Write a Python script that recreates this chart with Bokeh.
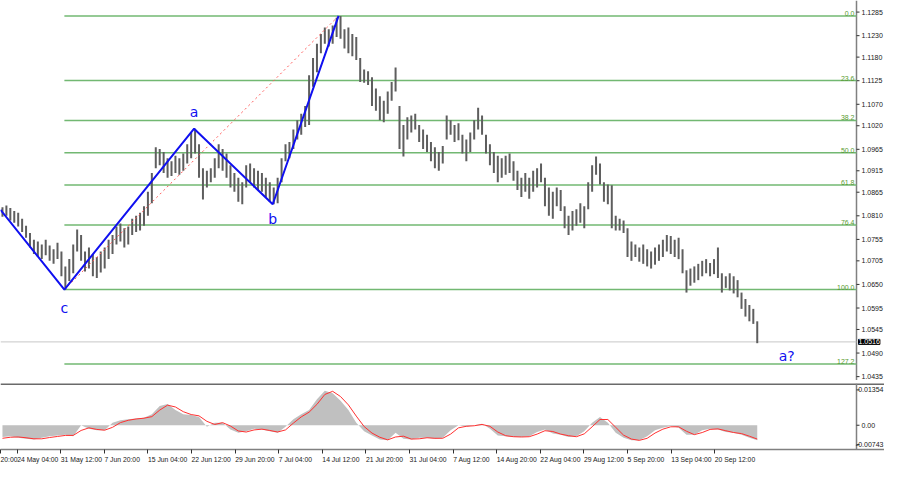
from bokeh.plotting import figure
from bokeh.layouts import column
from bokeh.models import FixedTicker, Range1d, Label, ColumnDataSource
from bokeh.core.properties import value
from bokeh.embed import file_html
from bokeh.resources import INLINE

# ---------------- data (EUR/USD, 4-hour bars sampled every ~12h) ----------------
highs = [
    1.0830, 1.0834, 1.0828, 1.0821, 1.0817, 1.0803, 1.0787, 1.0770, 1.0754, 1.0750,
    1.0743, 1.0754, 1.0741, 1.0732, 1.0747, 1.0727, 1.0692, 1.0709, 1.0743, 1.0778,
    1.0765, 1.0727, 1.0736, 1.0721, 1.0714, 1.0727, 1.0736, 1.0754, 1.0765, 1.0785,
    1.0792, 1.0781, 1.0785, 1.0803, 1.0810, 1.0817, 1.0832, 1.0866, 1.0910, 1.0970,
    1.0966, 1.0959, 1.0944, 1.0937, 1.0950, 1.0944, 1.0955, 1.0977, 1.1004, 1.1013,
    1.0977, 1.0921, 1.0915, 1.0921, 1.0944, 1.0977, 1.0966, 1.0955, 1.0928, 1.0910,
    1.0899, 1.0888, 1.0928, 1.0932, 1.0921, 1.0915, 1.0910, 1.0899, 1.0888, 1.0876,
    1.0899, 1.0944, 1.0977, 1.0982, 1.1011, 1.1033, 1.1048, 1.1066, 1.1138, 1.1178,
    1.1211, 1.1234, 1.1249, 1.1245, 1.1254, 1.1272, 1.1276, 1.1245, 1.1249, 1.1234,
    1.1227, 1.1178, 1.1151, 1.1147, 1.1133, 1.1107, 1.1089, 1.1078, 1.1100, 1.1122,
    1.1156, 1.1066, 1.1022, 1.1040, 1.1044, 1.1048, 1.1022, 1.1011, 1.0999, 1.0982,
    1.0970, 1.0959, 1.0973, 1.1044, 1.1033, 1.1022, 1.1026, 1.0999, 1.0988, 1.1004,
    1.1033, 1.1062, 1.1044, 1.0999, 1.0977, 1.0959, 1.0950, 1.0944, 1.0950, 1.0955,
    1.0937, 1.0915, 1.0899, 1.0910, 1.0899, 1.0915, 1.0921, 1.0932, 1.0899, 1.0876,
    1.0866, 1.0876, 1.0870, 1.0832, 1.0810, 1.0821, 1.0825, 1.0839, 1.0832, 1.0888,
    1.0928, 1.0948, 1.0932, 1.0888, 1.0883, 1.0881, 1.0810, 1.0803, 1.0799, 1.0781,
    1.0750, 1.0743, 1.0736, 1.0743, 1.0732, 1.0727, 1.0736, 1.0743, 1.0754, 1.0765,
    1.0763, 1.0754, 1.0759, 1.0732, 1.0683, 1.0687, 1.0692, 1.0698, 1.0705, 1.0709,
    1.0700, 1.0709, 1.0736, 1.0676, 1.0669, 1.0676, 1.0669, 1.0660, 1.0631, 1.0616,
    1.0602, 1.0593, 1.0564,
]
lows = [
    1.0808, 1.0810, 1.0799, 1.0794, 1.0785, 1.0772, 1.0759, 1.0736, 1.0721, 1.0714,
    1.0709, 1.0718, 1.0705, 1.0698, 1.0709, 1.0669, 1.0638, 1.0658, 1.0676, 1.0727,
    1.0705, 1.0680, 1.0687, 1.0669, 1.0665, 1.0678, 1.0687, 1.0709, 1.0721, 1.0743,
    1.0750, 1.0736, 1.0743, 1.0765, 1.0772, 1.0776, 1.0787, 1.0810, 1.0839, 1.0921,
    1.0928, 1.0910, 1.0899, 1.0903, 1.0910, 1.0906, 1.0915, 1.0932, 1.0944, 1.0955,
    1.0899, 1.0848, 1.0876, 1.0888, 1.0899, 1.0921, 1.0915, 1.0899, 1.0876, 1.0866,
    1.0843, 1.0837, 1.0876, 1.0888, 1.0876, 1.0870, 1.0866, 1.0854, 1.0843, 1.0837,
    1.0839, 1.0888, 1.0937, 1.0944, 1.0966, 1.0988, 1.0999, 1.1017, 1.1022, 1.1111,
    1.1145, 1.1189, 1.1211, 1.1205, 1.1211, 1.1227, 1.1223, 1.1200, 1.1189, 1.1182,
    1.1173, 1.1122, 1.1120, 1.1115, 1.1066, 1.1055, 1.1033, 1.1028, 1.1048, 1.1078,
    1.1100, 1.0966, 1.0948, 1.0988, 1.1004, 1.1011, 1.0982, 1.0966, 1.0959, 1.0937,
    1.0921, 1.0915, 1.0932, 1.0988, 1.0999, 1.0982, 1.0986, 1.0955, 1.0937, 1.0959,
    1.0988, 1.1011, 1.0999, 1.0955, 1.0928, 1.0910, 1.0888, 1.0899, 1.0906, 1.0910,
    1.0892, 1.0870, 1.0854, 1.0866, 1.0850, 1.0866, 1.0876, 1.0888, 1.0832, 1.0810,
    1.0803, 1.0832, 1.0821, 1.0781, 1.0765, 1.0776, 1.0787, 1.0794, 1.0781, 1.0825,
    1.0866, 1.0906, 1.0883, 1.0843, 1.0837, 1.0781, 1.0776, 1.0776, 1.0770, 1.0714,
    1.0705, 1.0714, 1.0703, 1.0698, 1.0692, 1.0687, 1.0696, 1.0705, 1.0714, 1.0727,
    1.0721, 1.0714, 1.0709, 1.0676, 1.0631, 1.0647, 1.0654, 1.0660, 1.0669, 1.0676,
    1.0669, 1.0674, 1.0665, 1.0631, 1.0642, 1.0636, 1.0629, 1.0620, 1.0593, 1.0575,
    1.0564, 1.0558, 1.0513,
]
last_price = 1.0516
last_price_text = "1.0516"

# MACD-style oscillator (histogram + signal), one value per two samples
hist = [
    -0.0045, -0.0042, -0.0048, -0.0052, -0.0055, -0.0048, -0.0042, -0.0039, -0.0036, -0.0042,
    0.0000, -0.0013, -0.0019, -0.0019, 0.0010, 0.0019, 0.0023, 0.0026, 0.0029, 0.0042,
    0.0074, 0.0081, 0.0058, 0.0042, 0.0039, 0.0032, -0.0006, 0.0010, 0.0010, -0.0016,
    -0.0029, -0.0023, -0.0013, -0.0016, -0.0023, -0.0029, -0.0006, 0.0023, 0.0042, 0.0058,
    0.0100, 0.0132, 0.0123, 0.0094, 0.0058, 0.0010, -0.0023, -0.0039, -0.0055, -0.0058,
    -0.0029, -0.0052, -0.0055, -0.0048, -0.0048, -0.0052, -0.0048, -0.0019, 0.0000, -0.0006,
    0.0000, 0.0006, -0.0013, -0.0039, -0.0042, -0.0045, -0.0045, -0.0042, -0.0026, -0.0016,
    -0.0032, -0.0036, -0.0045, -0.0042, -0.0023, 0.0010, 0.0032, 0.0010, -0.0029, -0.0048,
    -0.0058, -0.0058, -0.0042, -0.0019, -0.0010, -0.0003, -0.0010, -0.0036, -0.0036, -0.0019,
    -0.0013, -0.0016, -0.0026, -0.0029, -0.0036, -0.0048, -0.0058,
]
signal = [
    -0.0050, -0.0046, -0.0045, -0.0048, -0.0052, -0.0052, -0.0047, -0.0043, -0.0039, -0.0039,
    -0.0020, -0.0010, -0.0016, -0.0019, -0.0008, 0.0010, 0.0019, 0.0024, 0.0027, 0.0033,
    0.0058, 0.0077, 0.0070, 0.0052, 0.0041, 0.0036, 0.0015, 0.0003, 0.0010, -0.0003,
    -0.0022, -0.0026, -0.0018, -0.0015, -0.0020, -0.0026, -0.0018, 0.0008, 0.0032, 0.0050,
    0.0080, 0.0118, 0.0130, 0.0110, 0.0078, 0.0035, -0.0005, -0.0030, -0.0046, -0.0056,
    -0.0045, -0.0042, -0.0053, -0.0052, -0.0048, -0.0050, -0.0050, -0.0034, -0.0010, -0.0004,
    -0.0002, 0.0003, -0.0004, -0.0026, -0.0040, -0.0044, -0.0045, -0.0044, -0.0034, -0.0021,
    -0.0024, -0.0034, -0.0040, -0.0044, -0.0033, -0.0006, 0.0022, 0.0022, -0.0008, -0.0038,
    -0.0053, -0.0058, -0.0050, -0.0030, -0.0015, -0.0006, -0.0006, -0.0023, -0.0036, -0.0028,
    -0.0016, -0.0014, -0.0021, -0.0028, -0.0032, -0.0042, -0.0053,
]

# Elliott-wave markup points (sample index, price)
wave_x = [-0.5, 15.75, 48.75, 68.75, 85.5]
wave_y = [1.0824, 1.0638, 1.1013, 1.0837, 1.1276]
wave_names = ["c", "a", "b"]          # labels of points 1..3
next_label = "a?"
next_label_x = 199.5
next_label_y = 1.0484

# Fibonacci retracement from c-low to the top
fib_levels = [0.0, 23.6, 38.2, 50.0, 61.8, 76.4, 100.0, 127.2]
fib_texts = ["0.0", "23.6", "38.2", "50.0", "61.8", "76.4", "100.0", "127.2"]

price_ticks = ["1.1285", "1.1230", "1.1180", "1.1125", "1.1070", "1.1020", "1.0965",
               "1.0915", "1.0865", "1.0810", "1.0755", "1.0705", "1.0650", "1.0595",
               "1.0545", "1.0490", "1.0435"]
osc_ticks = ["0.01354", "0.00", "-0.00743"]
date_labels = ["24 May 04:00", "31 May 12:00", "7 Jun 20:00", "15 Jun 04:00",
               "22 Jun 12:00", "29 Jun 20:00", "7 Jul 04:00", "14 Jul 12:00",
               "21 Jul 20:00", "31 Jul 04:00", "7 Aug 12:00", "14 Aug 20:00",
               "22 Aug 04:00", "29 Aug 12:00", "5 Sep 20:00", "13 Sep 04:00",
               "20 Sep 12:00"]
prev_date_tail = "20:00"
first_date_pos = 3.75
date_step = 11.09

# ---------------- layout / styling ----------------
FONT = "Liberation Sans"
FS = "7px"
AX_COL = "#808080"
TXT = "#202020"
CHART_W = 856          # px width of the chart area
TOTAL_W = 884          # px width including the price-scale column
x_start, chart_end = -0.5, 217.25
px_per_unit = CHART_W / (chart_end - x_start)
x_end = x_start + TOTAL_W / px_per_unit
xr = Range1d(x_start, x_end)


def price_scale(fig, ticks, labels, aligns):
    """Right-hand price column: axis line, tick marks and labels."""
    k = len(ticks)
    y_lo, y_hi = fig.y_range.start, fig.y_range.end
    fig.segment(x0=[chart_end], y0=[y_lo], x1=[chart_end], y1=[y_hi],
                line_color=AX_COL, line_width=1.5)
    fig.segment(x0=[chart_end] * k, y0=ticks, x1=[chart_end + 3 / px_per_unit] * k, y1=ticks,
                line_color="#303030", line_width=1)
    src = ColumnDataSource(dict(
        x=[chart_end if a == "left" else x_end for a in aligns],
        y=ticks, t=labels, a=aligns,
        dx=[5 if a == "left" else -1 for a in aligns]))
    fig.text(x="x", y="y", text="t", x_offset="dx", text_align="a", source=src,
             text_baseline="middle", text_color=TXT, text_font=value(FONT), text_font_size=FS)


p = figure(frame_width=TOTAL_W, frame_height=380, x_range=xr,
           y_range=Range1d(1.0426, 1.1312), x_axis_location=None, y_axis_location=None,
           output_backend="svg", toolbar_location=None,
           min_border_left=0, min_border_top=0, min_border_bottom=0, min_border_right=0)
p.grid.visible = False
p.outline_line_color = None
p.background_fill_color = "white"
p.border_fill_color = "white"

tick_vals = [float(t) for t in price_ticks]
price_scale(p, tick_vals, price_ticks, ["left"] * len(tick_vals))

# current price line
p.segment(x0=[x_start], y0=[last_price], x1=[chart_end], y1=[last_price],
          line_color="#c8c8c8", line_width=1)

# fibonacci
top_p, low_p = wave_y[4], wave_y[1]
fib_prices = [top_p - lv / 100.0 * (top_p - low_p) for lv in fib_levels]
n = len(fib_prices)
p.segment(x0=[wave_x[1]] * n, y0=fib_prices, x1=[chart_end] * n, y1=fib_prices,
          line_color="#72b872", line_width=1.4)
p.text(x=[chart_end] * n, y=fib_prices, text=fib_texts, x_offset=-2, y_offset=0,
       text_align="right", text_baseline="bottom", text_color="#5a9a30",
       text_font=value(FONT), text_font_size=FS)

# price bars
xs = list(range(len(highs)))
p.segment(x0=xs, y0=lows, x1=xs, y1=highs, line_color="#5e5e5e", line_width=2.0)

# trend line (dotted red) and wave markup
p.line([wave_x[1], wave_x[4]], [wave_y[1], wave_y[4]], line_color="#ff5a5a",
       line_dash="2 3", line_width=1)
p.line(wave_x, wave_y, line_color="#1010f0", line_width=2)

lab_src = ColumnDataSource(dict(
    x=wave_x[1:4] + [next_label_x],
    y=wave_y[1:4] + [next_label_y],
    t=wave_names + [next_label],
    dy=[18, -17, 15, 0],
))
p.text(x="x", y="y", text="t", y_offset="dy", source=lab_src, text_align="center",
       text_baseline="middle", text_color="#1010f0", text_font=value("DejaVu Sans"),
       text_font_size="14px")

p.add_layout(Label(x=chart_end, y=last_price, x_offset=2, text=last_price_text,
                   text_color="white", background_fill_color="black",
                   border_line_color="black",
                   text_font=FONT, text_font_size=FS, text_baseline="middle",
                   text_align="left"))

# ---------------- oscillator ----------------
q = figure(frame_width=TOTAL_W, frame_height=66, x_range=xr,
           y_range=Range1d(-0.0093, 0.0160), y_axis_location=None,
           output_backend="svg", toolbar_location=None,
           min_border_left=0, min_border_top=3, min_border_bottom=0, min_border_right=0)
q.grid.visible = False
q.outline_line_color = None
q.background_fill_color = "white"
hx = [2 * k for k in range(len(hist))]
q.varea(x=hx, y1=[0.0] * len(hist), y2=hist, fill_color="#c0c0c0")
q.line(hx, signal, line_color="#ff3030", line_width=1)

# separator on top of the indicator window
q.segment(x0=[x_start], y0=[q.y_range.end], x1=[x_end], y1=[q.y_range.end],
          line_color="#6a6a6a", line_width=3)
ov = [float(t) for t in osc_ticks]
price_scale(q, ov, osc_ticks, ["right", "left", "right"])

xa = q.xaxis[0]
date_pos = [first_date_pos + date_step * k for k in range(len(date_labels))]
all_pos = [x_start] + date_pos
xa.ticker = FixedTicker(ticks=all_pos)
xa.major_label_overrides = {v: t for v, t in zip(all_pos, [prev_date_tail] + date_labels)}
xa.major_tick_in = 0
xa.major_tick_out = 4
xa.minor_tick_in = 0
xa.minor_tick_out = 0
xa.axis_line_color = AX_COL
xa.axis_line_width = 1.5
xa.major_tick_line_color = "#303030"
xa.major_label_text_font = FONT
xa.major_label_text_font_size = "6.8px"
xa.major_label_text_color = TXT
xa.major_label_orientation = -0.0001   # tiny negative angle -> labels start at their tick
xa.major_label_standoff = 6

layout = column(p, q, spacing=0)
open("out.html", "w").write(file_html(layout, INLINE))
